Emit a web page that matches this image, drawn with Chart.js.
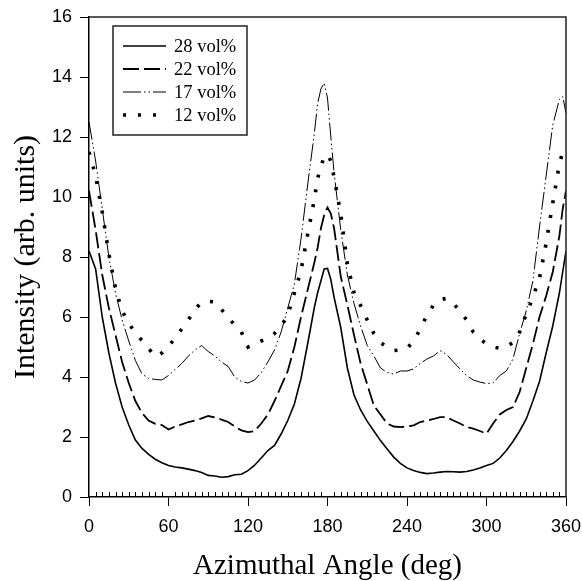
<!DOCTYPE html>
<html>
<head>
<meta charset="utf-8">
<script src="https://cdn.jsdelivr.net/npm/chart.js@4"></script>
<style>
  html, body { margin: 0; padding: 0; background: #fff; }
  #c { display: block; }
</style>
</head>
<body>
<canvas id="c" width="582" height="581"></canvas>
<script>
// azimuthal angle (deg), extra samples near the peaks
const angles = [0, 5, 10, 15, 20, 25, 30, 35, 40, 45, 50, 55, 60, 65, 70, 75, 80, 85, 90, 95,
  100, 105, 110, 115, 120, 125, 130, 135, 140, 145, 150, 155, 160, 165, 170, 172.5, 175, 177.5, 180, 182.5,
  185, 190, 195, 200, 205, 210, 215, 220, 225, 230, 235, 240, 245, 250, 255, 260, 265, 270, 275, 280,
  285, 290, 295, 300, 305, 310, 315, 320, 325, 330, 335, 340, 345, 350, 355, 357.5, 360];

const vol28 = [8.2, 7.6, 6.0, 4.8, 3.8, 3.0, 2.4, 1.9, 1.62, 1.42, 1.26, 1.14, 1.05, 1.0, 0.97, 0.93, 0.88, 0.82, 0.72, 0.7,
  0.66, 0.68, 0.74, 0.76, 0.88, 1.06, 1.3, 1.55, 1.72, 2.1, 2.55, 3.1, 3.95, 5.1, 6.3, 6.8, 7.2, 7.6, 7.62, 7.25,
  6.65, 5.65, 4.3, 3.4, 2.9, 2.52, 2.2, 1.88, 1.6, 1.33, 1.12, 0.97, 0.88, 0.82, 0.78, 0.8, 0.83, 0.85, 0.84, 0.83,
  0.85, 0.9, 0.97, 1.05, 1.12, 1.3, 1.55, 1.85, 2.2, 2.6, 3.2, 3.85, 4.8, 5.7, 6.8, 7.5, 8.2];

const vol22 = [10.2, 8.9, 7.4, 6.3, 5.4, 4.5, 3.8, 3.2, 2.8, 2.55, 2.44, 2.4, 2.25, 2.35, 2.42, 2.5, 2.55, 2.62, 2.7, 2.65,
  2.58, 2.5, 2.35, 2.22, 2.16, 2.2, 2.45, 2.75, 3.2, 3.7, 4.2, 5.0, 6.0, 6.9, 7.8, 8.3, 8.95, 9.4, 9.65, 9.45,
  8.95, 7.35, 6.4, 5.4, 4.45, 3.75, 3.05, 2.75, 2.45, 2.35, 2.33, 2.35, 2.39, 2.5, 2.55, 2.6, 2.66, 2.66, 2.55, 2.45,
  2.33, 2.28, 2.2, 2.11, 2.45, 2.75, 2.9, 3.0, 3.5, 4.3, 5.1, 6.0, 6.7, 7.5, 8.7, 9.6, 10.2];

const vol17 = [12.5, 11.2, 9.6, 8.0, 6.8, 5.9, 5.2, 4.55, 4.1, 3.95, 3.92, 3.9, 4.05, 4.25, 4.45, 4.7, 4.9, 5.05, 4.85, 4.7,
  4.5, 4.35, 4.0, 3.85, 3.8, 3.9, 4.15, 4.5, 4.9, 5.5, 6.3, 7.1, 8.6, 10.4, 12.1, 13.1, 13.6, 13.8, 13.3, 12.0,
  10.8, 8.9, 7.4, 6.45, 5.7, 5.05, 4.7, 4.3, 4.15, 4.1, 4.2, 4.2, 4.27, 4.45, 4.6, 4.7, 4.88, 4.75, 4.5, 4.27,
  4.05, 3.9, 3.83, 3.78, 3.8, 4.05, 4.2, 4.6, 5.45, 6.2, 7.2, 9.0, 10.7, 12.4, 13.25, 13.35, 12.8];

const vol12 = [11.5, 10.7, 9.5, 8.1, 6.95, 6.2, 5.8, 5.45, 5.22, 4.95, 4.68, 4.8, 5.02, 5.3, 5.6, 5.9, 6.25, 6.5, 6.52, 6.5,
  6.25, 6.0, 5.72, 5.5, 5.0, 5.1, 5.2, 5.3, 5.45, 5.7, 6.05, 6.8, 7.55, 8.75, 9.9, 10.6, 11.05, 11.3, 11.43, 11.2,
  10.65, 9.43, 7.77, 6.82, 6.38, 5.9, 5.45, 5.15, 5.0, 4.88, 4.9, 4.95, 5.2, 5.6, 6.05, 6.4, 6.58, 6.62, 6.45, 6.2,
  5.9, 5.5, 5.28, 5.1, 5.0, 4.96, 5.0, 5.15, 5.5, 6.1, 6.65, 7.3, 8.45, 9.8, 11.1, 11.5, 11.5];

const seriesLabels = ['28 vol%', '22 vol%', '17 vol%', '12 vol%'];

const SANS = "'Liberation Sans', Arial, sans-serif";
const SERIF = "'Liberation Serif', 'Times New Roman', serif";

const toPoints = vals => angles.map((a, i) => ({ x: a, y: vals[i] }));

// closes the box (top + right) and adds the small inward minor ticks on x
const framePlugin = {
  id: 'frame',
  afterDraw(chart) {
    const { ctx, chartArea: a, scales: { x } } = chart;
    ctx.save();
    ctx.strokeStyle = '#222';
    ctx.lineWidth = 1.5;
    ctx.beginPath();
    ctx.moveTo(a.left, a.top);
    ctx.lineTo(a.right, a.top);
    ctx.lineTo(a.right, a.bottom);
    ctx.stroke();

    ctx.strokeStyle = '#000';
    ctx.lineWidth = 1;
    ctx.beginPath();
    for (let v = 5; v < 360; v += 5) {
      if (v % 60 === 0) continue;
      const px = Math.round(x.getPixelForValue(v)) + 0.5;
      ctx.moveTo(px, a.bottom);
      ctx.lineTo(px, a.bottom - 5);
    }
    ctx.stroke();
    ctx.restore();
  }
};

// boxed legend in the upper left of the plot
const legendPlugin = {
  id: 'boxLegend',
  afterDraw(chart) {
    const { ctx, chartArea: a } = chart;
    const bx = a.left + 24, by = a.top + 9, bw = 134, bh = 109;
    ctx.save();
    ctx.fillStyle = '#fff';
    ctx.fillRect(bx, by, bw, bh);
    ctx.strokeStyle = '#222';
    ctx.lineWidth = 1.5;
    ctx.strokeRect(bx, by, bw, bh);

    ctx.font = '18.5px ' + SERIF;
    ctx.textBaseline = 'middle';
    ctx.fillStyle = '#000';
    chart.data.datasets.forEach((ds, i) => {
      const y = by + 20 + i * 23;
      ctx.beginPath();
      ctx.setLineDash(ds.borderDash || []);
      ctx.lineWidth = ds.borderWidth;
      ctx.strokeStyle = ds.borderColor;
      ctx.moveTo(bx + 10, y);
      ctx.lineTo(bx + 53, y);
      ctx.stroke();
      ctx.setLineDash([]);
      ctx.fillText(ds.label, bx + 61, y + 1);
    });
    ctx.restore();
  }
};

new Chart(document.getElementById('c'), {
  type: 'line',
  data: {
    datasets: [
      {
        label: seriesLabels[0],
        data: toPoints(vol28),
        borderColor: '#000',
        borderWidth: 1.6,
        borderDash: []
      },
      {
        label: seriesLabels[1],
        data: toPoints(vol22),
        borderColor: '#000',
        borderWidth: 1.8,
        borderDash: [16, 5]
      },
      {
        label: seriesLabels[2],
        data: toPoints(vol17),
        borderColor: '#000',
        borderWidth: 1,
        borderDash: [18, 3, 1.5, 3, 1.5, 3]
      },
      {
        label: seriesLabels[3],
        data: toPoints(vol12),
        borderColor: '#000',
        borderWidth: 3.6,
        borderDash: [3, 12]
      }
    ]
  },
  options: {
    responsive: false,
    animation: false,
    layout: { padding: { left: 0, right: 16, top: 17, bottom: 0 } },
    elements: {
      point: { radius: 0 },
      line: { tension: 0, fill: false }
    },
    plugins: {
      legend: { display: false },
      tooltip: { enabled: false }
    },
    scales: {
      x: {
        type: 'linear',
        min: 0,
        max: 360,
        afterFit: s => {
          s.height = 84;
          s.paddingLeft = 0;
          s.paddingRight = 0;
        },
        ticks: {
          stepSize: 60,
          padding: 10,
          maxRotation: 0,
          color: '#000',
          font: { family: SANS, size: 18 }
        },
        grid: { drawOnChartArea: false, tickLength: 9, tickColor: '#000' },
        border: { color: '#000', width: 1.5 },
        title: {
          display: true,
          text: 'Azimuthal Angle (deg)',
          color: '#000',
          font: { family: SERIF, size: 29, lineHeight: 1 },
          padding: { top: 0, bottom: 0 }
        }
      },
      y: {
        min: 0,
        max: 16,
        afterFit: s => {
          s.width = 89;
          s.paddingTop = 0;
          s.paddingBottom = 0;
        },
        ticks: {
          stepSize: 2,
          padding: 8,
          color: '#000',
          font: { family: SANS, size: 18 }
        },
        grid: { drawOnChartArea: false, tickLength: 9, tickColor: '#000' },
        border: { color: '#000', width: 1.5 },
        title: {
          display: true,
          text: 'Intensity (arb. units)',
          color: '#000',
          font: { family: SERIF, size: 30, lineHeight: 1 },
          padding: { top: 11, bottom: 0 }
        }
      }
    }
  },
  plugins: [framePlugin, legendPlugin]
});
</script>
</body>
</html>
